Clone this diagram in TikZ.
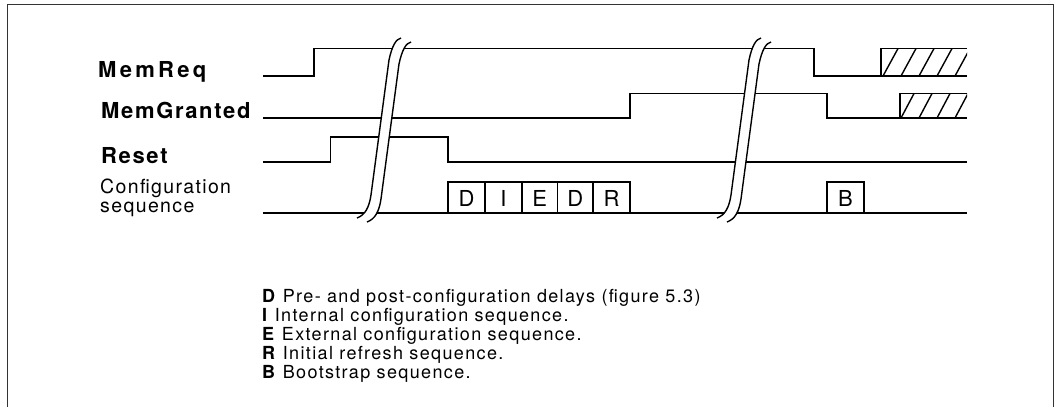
\documentclass[tikz,border=0pt]{standalone}
\usepackage{fontspec}
\setmainfont{TeX Gyre Heros}
\newfontfamily\sigfont[LetterSpace=7.5]{TeX Gyre Heros}
\newfontfamily\reqfont[LetterSpace=15]{TeX Gyre Heros}
\newfontfamily\seqfont[LetterSpace=7]{TeX Gyre Heros}
\newfontfamily\legfont[LetterSpace=7.5]{TeX Gyre Heros}

\tikzset{
    timebreak/.pic={
        % white band that cuts the signals
        \fill[white] (-43,180) .. controls (-35,177) and (-31,170) .. (-29,157)
            -- (-11,22) .. controls (-8,8) and (-4,1) .. (1,0)
            -- (11,4) .. controls (6,5) and (2,12) .. (-1,26)
            -- (-19,161) .. controls (-21,174) and (-25,181) .. (-33,184) -- cycle;
        \draw[cut] (-43,180) .. controls (-35,177) and (-31,170) .. (-29,157)
            -- (-11,22) .. controls (-8,8) and (-4,1) .. (1,0);
        \draw[cut] (-33,184) .. controls (-25,181) and (-21,174) .. (-19,161)
            -- (-1,26) .. controls (2,12) and (6,5) .. (11,4);
    }
}

\begin{document}
\begin{tikzpicture}[
    x=1pt, y=-1pt,
    signal/.style={line width=1.6pt, line join=miter},
    hatch/.style={line width=1.4pt},
    cut/.style={line width=1.4pt},
    siglabel/.style={anchor=base west, inner sep=0pt,
        font=\sigfont\bfseries\fontsize{22}{24}\selectfont},
    seqlabel/.style={anchor=base west, inner sep=0pt, align=left,
        font=\seqfont\fontsize{19.5}{19}\selectfont},
    legend/.style={anchor=base west, inner sep=0pt,
        font=\legfont\fontsize{18}{20}\selectfont},
    boxletter/.style={inner sep=0pt, font=\fontsize{22}{24}\selectfont}
]
\useasboundingbox (0,0) rectangle (1055,407);

% Frame
\draw[line width=0.8pt, black!80] (7,407) -- (7,4) -- (1053,4) -- (1053,407);

% Signal names
\node[siglabel, font=\reqfont\bfseries\fontsize{22}{24}\selectfont] (lblreq) at (98,77.5) {MemReq};
\node[siglabel] (lblgnt) at (101,118) {MemGranted};
\node[siglabel] (lblrst) at (101,163.5) {Reset};
\node[seqlabel] (lblcfg) at (100,212.5) {Configuration\\sequence};

% MemReq
\draw[signal] (263,76) -- (314,76) -- (314,48.5) -- (814,48.5) -- (814,76) -- (967,76);
\draw[signal] (881,76) -- (881,48.5) -- (967,48.5);
\begin{scope}
    \clip (881,48.5) rectangle (967,76);
    \foreach \x in {883,901,...,975}
        \draw[hatch] (\x,76) -- ++(15,-27.5);
\end{scope}

% MemGranted
\draw[signal] (263,118) -- (630,118) -- (630,93.5) -- (827,93.5) -- (827,118) -- (967,118);
\draw[signal] (900,118) -- (900,93.5) -- (967,93.5);
\begin{scope}
    \clip (900,93.5) rectangle (967,118);
    \foreach \x in {901,919,...,975}
        \draw[hatch] (\x,118) -- ++(13,-24.5);
\end{scope}

% Reset
\draw[signal] (263,162) -- (330.5,162) -- (330.5,137) -- (448,137) -- (448,162) -- (967,162);

% Configuration sequence
\draw[signal] (263,213) -- (967,213);
\foreach \xa/\xb/\t [count=\i] in {448/485/D, 485/522/I, 522/557.5/E, 557.5/593/D, 593/630/R, 827/864/B} {
    \draw[signal] (\xa,213) -- (\xa,182) -- (\xb,182) -- (\xb,213);
    \node[boxletter] (cfg\i) at ({(\xa+\xb)/2},198) {\t};
}

% Time breaks
\coordinate (brka) at (400,38);
\coordinate (brkb) at (760,38);
\pic at (brka) {timebreak};
\pic at (brkb) {timebreak};

% Legend
\foreach \y/\k/\txt [count=\i] in {302/D/{Pre- and post-configuration delays (figure 5.3)},
    321/I/{Internal configuration sequence.},
    340/E/{External configuration sequence.},
    359/R/{Initial refresh sequence.},
    378/B/{Bootstrap sequence.}}
    \node[legend] (leg\i) at (262,\y) {\textbf{\k} \txt};

\end{tikzpicture}
\end{document}
